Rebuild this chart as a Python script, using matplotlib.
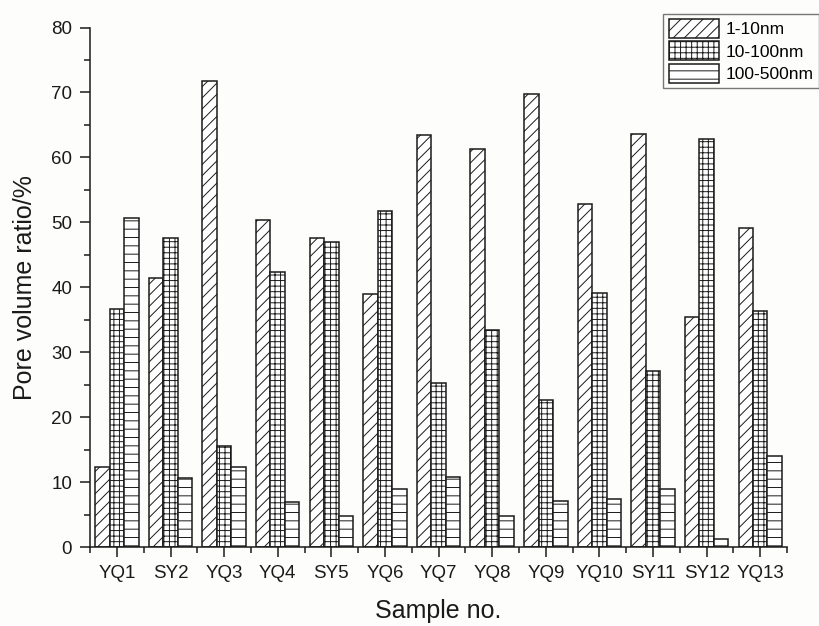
import numpy as np
import matplotlib.pyplot as plt
from matplotlib.ticker import MultipleLocator, FixedLocator

plt.rcParams['font.family'] = ['Liberation Sans', 'DejaVu Sans']
plt.rcParams['hatch.linewidth'] = 0.7

samples = ['YQ1', 'SY2', 'YQ3', 'YQ4', 'SY5', 'YQ6', 'YQ7',
           'YQ8', 'YQ9', 'YQ10', 'SY11', 'SY12', 'YQ13']
pore_1_10 = [12.3, 41.4, 71.8, 50.3, 47.6, 38.9, 63.5, 61.3, 69.8, 52.8, 63.6, 35.5, 49.1]
pore_10_100 = [36.6, 47.6, 15.6, 42.3, 47.0, 51.7, 25.3, 33.5, 22.6, 39.1, 27.1, 62.9, 36.3]
pore_100_500 = [50.7, 10.6, 12.3, 7.0, 4.8, 8.9, 10.8, 4.8, 7.1, 7.4, 8.9, 1.3, 14.1]
series = ['1-10nm', '10-100nm', '100-500nm']

bg = '#fdfdfb'
fig = plt.figure(figsize=(8.19, 6.26), dpi=100, facecolor=bg)
ax = fig.add_axes([0.110, 0.126, 0.851, 0.830], facecolor=bg)

x = np.arange(1, len(samples) + 1)
w = 0.27
hatches = ['///', '+++', '--']
for k, (vals, h, lab) in enumerate(zip([pore_1_10, pore_10_100, pore_100_500], hatches, series)):
    ax.bar(x + (k - 1) * w, vals, w, color='white', edgecolor='#1a1a1a',
           linewidth=1.1, hatch=h, label=lab)

ax.set_xlim(0.5, len(samples) + 0.5)
ax.set_ylim(0, 80)
ax.set_xticks(x)
ax.set_xticklabels(samples)
ax.xaxis.set_minor_locator(FixedLocator(np.arange(0.5, len(samples) + 1, 1)))
ax.yaxis.set_major_locator(MultipleLocator(10))
ax.yaxis.set_minor_locator(MultipleLocator(5))
ax.tick_params(which='major', direction='out', length=7, width=1.1, labelsize=13.5,
               colors='#1a1a1a', pad=6)
ax.tick_params(which='minor', direction='out', length=4, width=1.1, colors='#1a1a1a')

for s in ['top', 'right']:
    ax.spines[s].set_visible(False)
for s in ['left', 'bottom']:
    ax.spines[s].set_linewidth(1.1)
    ax.spines[s].set_color('#1a1a1a')

ax.set_xlabel('Sample no.', fontsize=18, labelpad=12, color='#1a1a1a')
ax.set_ylabel('Pore volume ratio/%', fontsize=18, labelpad=10, color='#1a1a1a')

leg = ax.legend(loc='upper right', bbox_to_anchor=(1.0, 0.978), bbox_transform=fig.transFigure,
                fontsize=12.5, frameon=True, fancybox=False, handlelength=2.9, handleheight=1.3,
                borderpad=0.3, labelspacing=0.2, handletextpad=0.4, borderaxespad=0.0)
leg.get_frame().set_edgecolor('#555555')
leg.get_frame().set_linewidth(1.0)
leg.get_frame().set_facecolor(bg)

fig.savefig('out.png', dpi=100, facecolor=bg)
